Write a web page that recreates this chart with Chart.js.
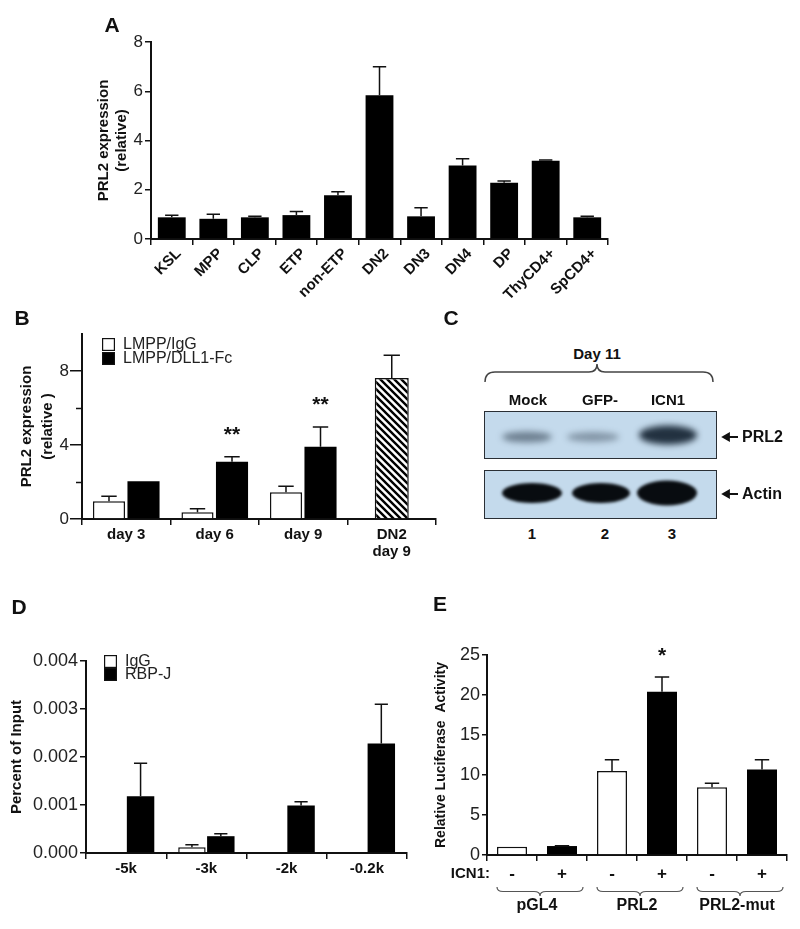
<!DOCTYPE html>
<html><head><meta charset="utf-8">
<script src="https://cdn.jsdelivr.net/npm/chart.js@4.4.0/dist/chart.umd.min.js"></script>
<style>
body{margin:0;background:#fff;width:800px;height:929px;position:relative;overflow:hidden;font-family:"Liberation Sans",Arial,Helvetica,sans-serif;color:#111}
canvas{position:absolute}
.t{position:absolute;font-weight:bold;white-space:nowrap;transform:translate(-50%,-50%);font-size:14px;color:#111}
.letter{position:absolute;font-weight:bold;font-size:21px;transform:translate(-50%,-50%)}
.blot{position:absolute;background:#c4daec;border:1.5px solid #2a2f35;box-sizing:border-box;overflow:hidden}
.band{position:absolute;border-radius:50%;transform:translate(-50%,-50%)}
</style></head><body>
<canvas id="cA" width="530" height="330" style="left:90px;top:0px"></canvas>
<canvas id="cB" width="445" height="270" style="left:0px;top:300px"></canvas>
<canvas id="cD" width="420" height="300" style="left:0px;top:600px"></canvas>
<canvas id="cE" width="380" height="329" style="left:420px;top:600px"></canvas>
<div id="panelC"></div>
<div class="letter" style="left:112px;top:25px">A</div>
<div class="letter" style="left:22px;top:318px">B</div>
<div class="letter" style="left:451px;top:318px">C</div>
<div class="letter" style="left:19px;top:607px">D</div>
<div class="letter" style="left:440px;top:604px">E</div>
<script>
// ---------------- DATA ----------------
// Panel A
const catsA = ['KSL','MPP','CLP','ETP','non-ETP','DN2','DN3','DN4','DP','ThyCD4+','SpCD4+'];
const valsA = [0.88,0.82,0.88,0.97,1.78,5.84,0.92,2.98,2.28,3.18,0.88];
const errA  = [0.08,0.19,0.04,0.15,0.14,1.15,0.35,0.28,0.08,0.03,0.04];
// Panel B
const catsB = ['day 3','day 6','day 9',['DN2','day 9']];
const igGB    = [0.96,0.37,1.45,null];
const igGErrB = [0.27,0.18,0.32,null];
const dllB    = [2.04,3.10,3.91,null];
const dllErrB = [0,0.26,1.06,null];
const dn2B    = [null,null,null,7.62];
const dn2ErrB = [null,null,null,1.23];
const starsB  = ['','**','**',''];
const majorTicksB = [0,4,8];
const minorTicksB = [2,6];
// Panel C (western blot)
const lanesC = ['Mock','GFP-','ICN1'];
const laneNumsC = ['1','2','3'];
const prl2BandC = [0.5,0.38,0.95];
const actinBandC = [1,1,1];
// Panel D
const catsD = ['-5k','-3k','-2k','-0.2k'];
const igGD    = [0,0.00012,0,0];
const igGErrD = [0,0.00005,0,0];
const rbpD    = [0.00118,0.00035,0.00099,0.00228];
const rbpErrD = [0.00069,0.00005,0.00008,0.00082];
// Panel E
const catsE = ['-','+','-','+','-','+'];
const groupsE = ['pGL4','PRL2','PRL2-mut'];
const minusE    = [1.04,null,10.5,null,8.46,null];
const minusErrE = [0,null,1.4,null,0.5,null];
const plusE     = [null,1.12,null,20.4,null,10.7];
const plusErrE  = [null,0.05,null,1.85,null,1.2];
const starsE    = ['','','','*','',''];

// ---------------- STYLE ----------------
const FONT = '"Liberation Sans", Arial, Helvetica, sans-serif';
const NARROW = '"Liberation Sans Narrow", "Arial Narrow", "Liberation Sans", Arial, sans-serif';
const INK = '#111';

// ---------------- PLUGINS ----------------
const errorBars = {
  id:'errorBars',
  afterDatasetsDraw(chart){
    const ctx = chart.ctx, ys = chart.scales.y;
    chart.data.datasets.forEach((ds,i)=>{
      if(!ds.errors) return;
      const meta = chart.getDatasetMeta(i);
      meta.data.forEach((bar,j)=>{
        const v = ds.data[j], e = ds.errors[j];
        if(v==null || !e) return;
        const yTop = ys.getPixelForValue(v+e), yBar = ys.getPixelForValue(v);
        const half = bar.width*0.24;
        ctx.save(); ctx.strokeStyle = INK; ctx.lineWidth = 1.5;
        ctx.beginPath();
        ctx.moveTo(bar.x,yBar); ctx.lineTo(bar.x,yTop);
        ctx.moveTo(bar.x-half,yTop); ctx.lineTo(bar.x+half,yTop);
        ctx.stroke(); ctx.restore();
      });
    });
  }
};
const stars = {
  id:'stars',
  afterDatasetsDraw(chart,args,opts){
    const ctx = chart.ctx, ys = chart.scales.y;
    chart.data.datasets.forEach((ds,i)=>{
      if(!ds.stars) return;
      const meta = chart.getDatasetMeta(i);
      meta.data.forEach((bar,j)=>{
        const s = ds.stars[j]; if(!s) return;
        const v = ds.data[j] + (ds.errors ? (ds.errors[j]||0) : 0);
        ctx.save(); ctx.fillStyle = INK; ctx.font = 'bold 21px '+FONT;
        ctx.textAlign='center'; ctx.textBaseline='middle';
        ctx.fillText(s, bar.x, ys.getPixelForValue(v) - (opts.gap||20));
        ctx.restore();
      });
    });
  }
};
const boxLegend = {
  id:'boxLegend',
  afterDraw(chart,args,opts){
    if(!opts || opts.dx==null) return;
    const ctx = chart.ctx, ca = chart.chartArea;
    let y = ca.top + opts.dy;
    chart.data.datasets.forEach(ds=>{
      if(!ds.inLegend) return;
      ctx.save();
      ctx.fillStyle = ds.backgroundColor; ctx.strokeStyle = INK; ctx.lineWidth = 1.2;
      ctx.fillRect(ca.left+opts.dx, y, 13, 13);
      ctx.strokeRect(ca.left+opts.dx+0.6, y+0.6, 11.8, 11.8);
      ctx.fillStyle = '#222'; ctx.font = (opts.size||15)+'px '+FONT;
      ctx.textAlign='left'; ctx.textBaseline='middle';
      ctx.fillText(ds.label, ca.left+opts.dx+21, y+7);
      ctx.restore();
      y += opts.row;
    });
  }
};
const minorTicks = {
  id:'minorTicks',
  afterDraw(chart,args,opts){
    if(!opts || !opts.values) return;
    const ctx = chart.ctx, ys = chart.scales.y, ca = chart.chartArea;
    ctx.save(); ctx.strokeStyle = INK; ctx.lineWidth = 1.5;
    opts.values.forEach(v=>{
      const y = Math.round(ys.getPixelForValue(v))+0.5;
      ctx.beginPath(); ctx.moveTo(ca.left-6,y); ctx.lineTo(ca.left,y); ctx.stroke();
    });
    ctx.restore();
  }
};
function drawUnderBrace(ctx,x1,x2,y,h){
  const m=(x1+x2)/2, r=6, yh=y+h/2;
  ctx.beginPath();
  ctx.moveTo(x1,y);
  ctx.quadraticCurveTo(x1,yh,x1+r,yh);
  ctx.lineTo(m-r,yh);
  ctx.quadraticCurveTo(m,yh,m,y+h);
  ctx.quadraticCurveTo(m,yh,m+r,yh);
  ctx.lineTo(x2-r,yh);
  ctx.quadraticCurveTo(x2,yh,x2,y);
  ctx.stroke();
}
const groupBraces = {
  id:'groupBraces',
  afterDraw(chart,args,opts){
    if(!opts || !opts.groups) return;
    const ctx = chart.ctx, xs = chart.scales.x, ca = chart.chartArea;
    ctx.save();
    ctx.fillStyle = INK; ctx.font = 'bold 15px '+FONT;
    ctx.textAlign='right'; ctx.textBaseline='middle';
    ctx.fillText(opts.prefix, ca.left+3, ca.bottom+19);
    ctx.strokeStyle = '#555'; ctx.lineWidth = 1.2;
    opts.groups.forEach((g,k)=>{
      const a = xs.getPixelForValue(2*k), b = xs.getPixelForValue(2*k+1);
      const half = (b-a)/2;
      drawUnderBrace(ctx, a-half+10, b+half-4, ca.bottom+32, 9);
      ctx.fillStyle = INK; ctx.font = 'bold 16px '+FONT; ctx.textAlign='center';
      ctx.fillText(g, (a+b)/2, ca.bottom+51);
    });
    ctx.restore();
  }
};

// ---------------- COMMON AXES ----------------
function xAxis(opts){
  return Object.assign({
    type:'category', offset:true,
    grid:{display:true, drawOnChartArea:false, offset:true, tickLength:6, color:INK, lineWidth:1.5},
    border:{display:true, color:INK, width:2},
    ticks:{color:INK, font:{family:FONT, size:15, weight:'bold', lineHeight:1.15}, autoSkip:false, maxRotation:0, minRotation:0, padding:1}
  }, opts);
}
function yAxis(opts){
  return Object.assign({
    min:0,
    grid:{drawOnChartArea:false, tickLength:6, color:INK, lineWidth:1.5},
    border:{display:true, color:INK, width:2},
    ticks:{color:'#222', font:{family:NARROW, size:16}, padding:2}
  }, opts);
}
function baseOptions(pad, scales, plugins){
  return {
    responsive:false, animation:false, devicePixelRatio:1,
    layout:{padding:pad, autoPadding:false},
    plugins:Object.assign({legend:{display:false}, tooltip:{enabled:false}}, plugins||{}),
    scales:scales
  };
}

// ---------------- PANEL A ----------------
new Chart(document.getElementById('cA'), {
  type:'bar',
  data:{labels:catsA, datasets:[{label:'PRL2', data:valsA, errors:errA, backgroundColor:'#000', borderWidth:0, categoryPercentage:1, barPercentage:0.67}]},
  options: baseOptions({top:42,right:12,left:0,bottom:0}, {
    x: xAxis({
      ticks:{color:INK, font:{family:FONT, size:15, weight:'bold'}, autoSkip:false, maxRotation:45, minRotation:45, padding:0, labelOffset:7},
      afterFit(s){ s.height = 91; }
    }),
    y: yAxis({
      max:8, ticks:{stepSize:2, color:'#222', font:{family:NARROW, size:17}, padding:2},
      title:{display:true, text:['PRL2 expression','(relative)'], color:INK, font:{family:FONT, size:15, weight:'bold', lineHeight:1.2}, padding:{top:5,bottom:0}},
      afterFit(s){ s.width = 61; }
    })
  }),
  plugins:[errorBars]
});

// ---------------- PANEL B ----------------
const hatchPattern = (function(){
  const c = document.createElement('canvas'); c.width=7; c.height=7;
  const g = c.getContext('2d');
  g.fillStyle='#fff'; g.fillRect(0,0,7,7);
  g.strokeStyle='#000'; g.lineWidth=2.4; g.lineCap='square';
  g.beginPath();
  g.moveTo(0,0); g.lineTo(7,7);
  g.moveTo(-3.5,3.5); g.lineTo(3.5,10.5);
  g.moveTo(3.5,-3.5); g.lineTo(10.5,3.5);
  g.stroke();
  return document.getElementById('cB').getContext('2d').createPattern(c,'repeat');
})();
new Chart(document.getElementById('cB'), {
  type:'bar',
  data:{labels:catsB, datasets:[
    {label:'LMPP/IgG', inLegend:true, data:igGB, errors:igGErrB, backgroundColor:'#fff', borderColor:INK, borderWidth:1.5, skipNull:true, categoryPercentage:0.78, barPercentage:0.93},
    {label:'LMPP/DLL1-Fc', inLegend:true, data:dllB, errors:dllErrB, stars:starsB, backgroundColor:'#000', borderWidth:0, skipNull:true, categoryPercentage:0.78, barPercentage:0.93},
    {label:'DN2 day 9', data:dn2B, errors:dn2ErrB, backgroundColor:hatchPattern, borderColor:INK, borderWidth:1.5, skipNull:true, categoryPercentage:0.78, barPercentage:0.93, maxBarThickness:34}
  ]},
  options: baseOptions({top:34,right:9,left:0,bottom:0}, {
    x: xAxis({ afterFit(s){ s.height = 51; } }),
    y: yAxis({
      max:10,
      grid:{drawOnChartArea:false, tickLength:12, lineWidth:1.5, color:INK,
            tickColor:(c)=> (c.tick && majorTicksB.includes(c.tick.value)) ? INK : 'rgba(0,0,0,0)'},
      ticks:{stepSize:2, color:'#222', font:{family:NARROW, size:17}, padding:1,
             callback:(v)=> majorTicksB.includes(v) ? String(v) : ''},
      title:{display:true, text:['PRL2 expression','(relative )'], color:INK, font:{family:FONT, size:15, weight:'bold', lineHeight:1.4}, padding:{top:16,bottom:0}},
      afterFit(s){ s.width = 82; }
    })
  }, {boxLegend:{dx:20, dy:4, row:14, size:16}, minorTicks:{values:minorTicksB}, stars:{gap:22}}),
  plugins:[errorBars, stars, boxLegend, minorTicks]
});

// ---------------- PANEL C ----------------
(function(){
  const root = document.getElementById('panelC');
  const laneX = [528, 600, 668];
  let h = '';
  h += '<div class="t" style="left:597px;top:353px;font-size:15px">Day 11</div>';
  h += '<svg style="position:absolute;left:0;top:0" width="800" height="520">'
     + '<path d="M485,382 Q485,372 495,372 L589,372 Q597,372 597,364 Q597,372 605,372 L703,372 Q713,372 713,382" fill="none" stroke="#444" stroke-width="1.5"/>'
     + '<path d="M723,437 L738,437 M723,437 L729,433.5 L729,440.5 Z" stroke="#111" stroke-width="1.8" fill="#111"/>'
     + '<path d="M723,494 L738,494 M723,494 L729,490.5 L729,497.5 Z" stroke="#111" stroke-width="1.8" fill="#111"/>'
     + '</svg>';
  lanesC.forEach((n,i)=>{ h += '<div class="t" style="left:'+laneX[i]+'px;top:399px;font-size:15px">'+n+'</div>'; });
  h += '<div class="blot" style="left:484px;top:411px;width:233px;height:48px"></div>';
  h += '<div class="blot" style="left:484px;top:470px;width:233px;height:49px"></div>';
  const prlPos = [[527,437,50,11],[593,437,52,10],[668,435,58,19]];
  prl2BandC.forEach((a,i)=>{
    const p = prlPos[i];
    h += '<div class="band" style="left:'+p[0]+'px;top:'+p[1]+'px;width:'+p[2]+'px;height:'+p[3]+'px;background:rgba(25,40,55,'+a+');filter:blur(3px)"></div>';
  });
  const actPos = [[532,493,60,20],[601,493,58,20],[667,493,60,25]];
  actinBandC.forEach((a,i)=>{
    const p = actPos[i];
    h += '<div class="band" style="left:'+p[0]+'px;top:'+p[1]+'px;width:'+p[2]+'px;height:'+p[3]+'px;background:rgba(8,12,16,'+a+');filter:blur(1.5px)"></div>';
  });
  h += '<div class="t" style="left:742px;top:437px;transform:translate(0,-50%);font-size:16px">PRL2</div>';
  h += '<div class="t" style="left:742px;top:494px;transform:translate(0,-50%);font-size:16px">Actin</div>';
  laneNumsC.forEach((n,i)=>{ h += '<div class="t" style="left:'+[532,605,672][i]+'px;top:533px;font-size:15px">'+n+'</div>'; });
  root.innerHTML = h;
})();

// ---------------- PANEL D ----------------
new Chart(document.getElementById('cD'), {
  type:'bar',
  data:{labels:catsD, datasets:[
    {label:'IgG', inLegend:true, data:igGD, errors:igGErrD, backgroundColor:'#fff', borderColor:INK, borderWidth:1.5, categoryPercentage:0.72, barPercentage:0.95},
    {label:'RBP-J', inLegend:true, data:rbpD, errors:rbpErrD, backgroundColor:'#000', borderWidth:0, categoryPercentage:0.72, barPercentage:0.95}
  ]},
  options: baseOptions({top:61,right:13,left:0,bottom:0}, {
    x: xAxis({ afterFit(s){ s.height = 47; } }),
    y: yAxis({
      max:0.004,
      ticks:{stepSize:0.001, color:'#222', font:{family:NARROW, size:18}, padding:2, callback:(v)=> Number(v).toFixed(3)},
      title:{display:true, text:'Percent of Input', color:INK, font:{family:FONT, size:15, weight:'bold', lineHeight:1.2}, padding:{top:8,bottom:0}},
      afterFit(s){ s.width = 86; }
    })
  }, {boxLegend:{dx:18, dy:-6, row:13, size:16}}),
  plugins:[errorBars, boxLegend]
});

// ---------------- PANEL E ----------------
new Chart(document.getElementById('cE'), {
  type:'bar',
  data:{labels:catsE, datasets:[
    {label:'ICN1 -', data:minusE, errors:minusErrE, backgroundColor:'#fff', borderColor:INK, borderWidth:1.5, skipNull:true, categoryPercentage:1, barPercentage:0.6},
    {label:'ICN1 +', data:plusE, errors:plusErrE, stars:starsE, backgroundColor:'#000', borderWidth:0, skipNull:true, categoryPercentage:1, barPercentage:0.6}
  ]},
  options: baseOptions({top:55,right:13,left:0,bottom:0}, {
    x: xAxis({
      ticks:{color:INK, font:{family:FONT, size:17, weight:'bold'}, autoSkip:false, maxRotation:0, minRotation:0, padding:3},
      afterFit(s){ s.height = 74; }
    }),
    y: yAxis({
      max:25,
      grid:{drawOnChartArea:false, tickLength:5, color:INK, lineWidth:1.5},
      ticks:{stepSize:5, color:'#222', font:{family:NARROW, size:18}, padding:2},
      title:{display:true, text:'Relative Luciferase  Activity', color:INK, font:{family:FONT, size:14, weight:'bold', lineHeight:1.2}, padding:{top:13,bottom:0}},
      afterFit(s){ s.width = 67; }
    })
  }, {groupBraces:{groups:groupsE, prefix:'ICN1:'}, stars:{gap:21}}),
  plugins:[errorBars, stars, groupBraces]
});
</script>
</body></html>
